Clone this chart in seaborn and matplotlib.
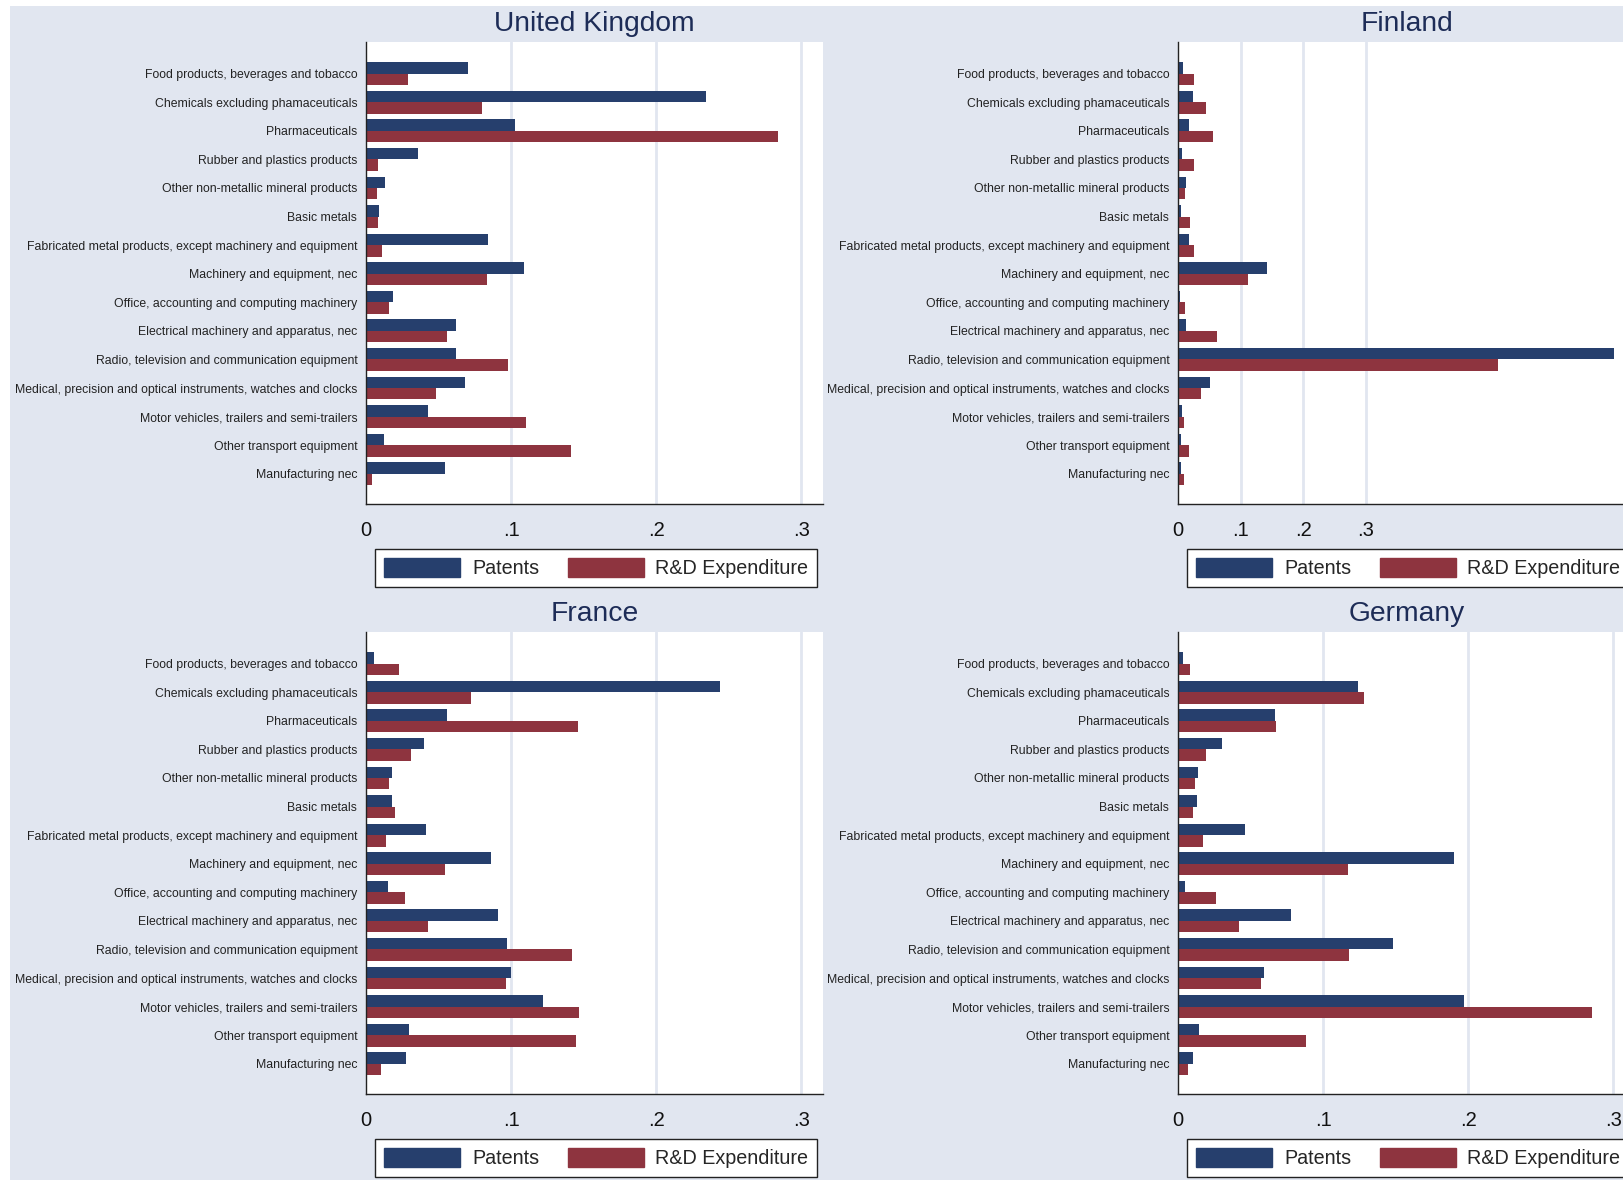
import pandas as pd
import seaborn as sns
import matplotlib.pyplot as plt
from matplotlib.patches import Patch, Rectangle

# industry categories (same order in every panel)
industries = [
    'Food products, beverages and tobacco',
    'Chemicals excluding phamaceuticals',
    'Pharmaceuticals',
    'Rubber and plastics products',
    'Other non-metallic mineral products',
    'Basic metals',
    'Fabricated metal products, except machinery and equipment',
    'Machinery and equipment, nec',
    'Office, accounting and computing machinery',
    'Electrical machinery and apparatus, nec',
    'Radio, television and communication equipment',
    'Medical, precision and optical instruments, watches and clocks',
    'Motor vehicles, trailers and semi-trailers',
    'Other transport equipment',
    'Manufacturing nec',
]
series_names = ['Patents', 'R&D Expenditure']

uk_patents = [0.070, 0.234, 0.1025, 0.036, 0.013, 0.0085, 0.084, 0.109, 0.0185,
              0.062, 0.062, 0.068, 0.0425, 0.012, 0.054]
uk_rd = [0.029, 0.080, 0.284, 0.008, 0.0073, 0.008, 0.011, 0.083, 0.016,
         0.056, 0.0975, 0.048, 0.110, 0.1415, 0.004]

fi_patents = [0.008, 0.024, 0.017, 0.006, 0.012, 0.004, 0.0165, 0.1417, 0.002,
              0.013, 0.697, 0.050, 0.006, 0.005, 0.005]
fi_rd = [0.0245, 0.045, 0.0555, 0.0245, 0.011, 0.0185, 0.0255, 0.111, 0.010,
         0.062, 0.511, 0.037, 0.0085, 0.0165, 0.009]

fr_patents = [0.005, 0.244, 0.0556, 0.0396, 0.0176, 0.0176, 0.041, 0.0863, 0.015,
              0.091, 0.097, 0.100, 0.122, 0.0297, 0.0277]
fr_rd = [0.0224, 0.0725, 0.146, 0.031, 0.0156, 0.0197, 0.0137, 0.0545, 0.0268,
         0.0423, 0.142, 0.0966, 0.147, 0.1446, 0.010]

de_patents = [0.0034, 0.1237, 0.067, 0.030, 0.0133, 0.013, 0.046, 0.190, 0.0048,
              0.0775, 0.148, 0.059, 0.197, 0.0143, 0.0103]
de_rd = [0.0083, 0.128, 0.0674, 0.019, 0.0115, 0.0103, 0.017, 0.117, 0.026,
         0.0416, 0.1177, 0.057, 0.285, 0.0878, 0.0069]

panels = [
    ('United Kingdom', uk_patents, uk_rd),
    ('Finland', fi_patents, fi_rd),
    ('France', fr_patents, fr_rd),
    ('Germany', de_patents, de_rd),
]

navy = '#263f6d'
maroon = '#8e343f'
bg = '#e1e6f0'
title_color = '#1d2c57'

sns.set_style('white')
plt.rcParams['font.family'] = ['Liberation Sans', 'DejaVu Sans']

W, H = 1623, 1180
fig = plt.figure(figsize=(W / 100, H / 100), dpi=100, facecolor='white')
# stata-like graph region, white outer margin on left/top
fig.add_artist(Rectangle((10 / W, 0), 1, 1 - 6 / H, transform=fig.transFigure,
                         facecolor=bg, edgecolor='none', zorder=-10))

# panel placement in pixels: left, top, x max
layout = {
    'United Kingdom': (366.3, 41.7, 0.315),
    'Finland': (1178.3, 41.7, 0.73),
    'France': (366.3, 631.7, 0.315),
    'Germany': (1178.3, 631.7, 0.315),
}
wp, hp = 456.7, 462.6

for name, pat, rd in panels:
    left, top, xmax = layout[name]
    ax = fig.add_axes([left / W, 1 - (top + hp) / H, wp / W, hp / H])
    ax.set_facecolor('white')

    df = pd.DataFrame({
        'industry': industries * 2,
        'series': [series_names[0]] * len(industries) + [series_names[1]] * len(industries),
        'value': pat + rd,
    })
    for v in [0.1, 0.2, 0.3]:
        ax.axvline(v, color=bg, lw=2, zorder=0)
    sns.barplot(data=df, x='value', y='industry', hue='series', orient='h',
                palette=[navy, maroon], saturation=1, width=0.8, ax=ax,
                legend=False, edgecolor='none', zorder=2)

    ax.set_xlim(0, xmax)
    ax.set_ylim(len(industries) + 0.07, -1.12)
    ax.set_xticks([0, 0.1, 0.2, 0.3])
    ax.set_xticklabels(['0', '.1', '.2', '.3'])
    ax.set_xlabel('')
    ax.set_ylabel('')
    for s in ['top', 'right']:
        ax.spines[s].set_visible(False)
    for s in ['left', 'bottom']:
        ax.spines[s].set_color('#222222')
        ax.spines[s].set_linewidth(1.0)
    ax.tick_params(axis='y', length=0, pad=6.5, labelsize=8.85, labelcolor='#222222')
    ax.tick_params(axis='x', length=4.5, width=1, direction='out', pad=7.5,
                   labelsize=14.5, color='#222222', labelcolor='#111111')

    fig.text((left + wp / 2) / W, 1 - (top - 17.5) / H, name, ha='center', va='center',
             fontsize=20.3, color=title_color)

    handles = [Patch(facecolor=navy, edgecolor=navy), Patch(facecolor=maroon, edgecolor=maroon)]
    leg = fig.legend(handles, series_names, loc='upper left', ncol=2,
                     bbox_to_anchor=((left + 9) / W, 1 - (top + 507.3) / H),
                     frameon=True, fancybox=False, edgecolor='#222222', facecolor='white',
                     framealpha=1, fontsize=14.2, handlelength=3.85, handleheight=1.1,
                     handletextpad=0.6, columnspacing=1.45, borderpad=0.45, borderaxespad=0)
    leg.get_frame().set_linewidth(1.0)

fig.savefig('out.png', dpi=100, facecolor='white')
